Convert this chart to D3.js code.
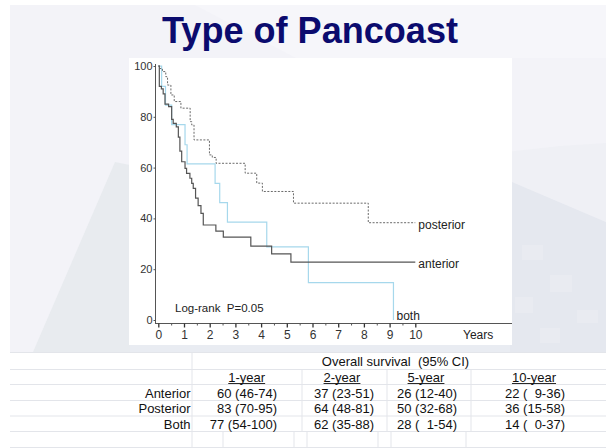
<!DOCTYPE html>
<html>
<head>
<meta charset="utf-8">
<script src="https://cdn.jsdelivr.net/npm/d3@7"></script>
<style>
body{margin:0;background:#fff;}
svg{display:block;font-family:"Liberation Sans",Arial,sans-serif;}
</style>
</head>
<body>
<svg id="c" width="606" height="448"></svg>
<script>
// ---------- data ----------
const title = "Type of Pancoast";
const yearTicks = [0,1,2,3,4,5,6,7,8,9,10];
const survTicks = [0,20,40,60,80,100];

const anteriorT = [0,0.04,0.12,0.19,0.26,0.4,0.52,0.58,0.7,0.78,0.84,0.91,1.04,1.1,1.23,1.3,1.36,1.45,1.55,1.66,1.75,2.24,2.53,3.6,4.41,5.16,10];
const anteriorV = [100,92,91,89,85,84,79,77.4,76,72,66.5,62.3,59.7,57.7,55.8,53.8,51.8,48,45,42,37.4,35,32.6,29.1,26,22.8,22.8];

const posteriorT = [0,0.06,0.16,0.29,0.36,0.49,0.62,0.88,1.24,1.3,1.39,1.99,2.1,2.25,3.38,3.83,4.05,5.26,8.17,10];
const posteriorV = [100,99,97.8,95.8,92.5,88.6,86,83.4,78.1,76.8,70.9,65,64,61.7,57.8,53.9,50.6,46,38.3,38.3];

const bothT = [0,0.13,0.28,0.52,1.04,1.12,2.21,2.39,2.69,4.22,5.84,9.15];
const bothV = [100,92,84.6,76.9,69,61.5,53.8,46.2,38.5,28.8,14.7,0];

const seriesNames = ["posterior","anterior","both"];
const logRankText = "Log-rank  P=0.05";
const xAxisTitle = "Years";

const tableTitle = "Overall survival  (95% CI)";
const colHeaders = ["1-year","2-year","5-year","10-year"];
const rowLabels = ["Anterior","Posterior","Both"];
const tableCells = [
  ["60 (46-74)","37 (23-51)","26 (12-40)","22 (  9-36)"],
  ["83 (70-95)","64 (48-81)","50 (32-68)","36 (15-58)"],
  ["77 (54-100)","62 (35-88)","28 (  1-54)","14 (  0-37)"]
];

// ---------- drawing ----------
const svg = d3.select("#c");

// slide background
svg.append("rect").attr("x",10).attr("y",5).attr("width",596).attr("height",347).attr("fill","#f3f3f8");
svg.append("polygon").attr("points","195,5 606,5 606,58 296,58").attr("fill","#f6f6fa");
svg.append("polygon").attr("points","115,162 135,166 135,352 33,352").attr("fill","#e8ebef");
svg.append("polygon").attr("points","505,152 560,146 606,143 606,222 505,179").attr("fill","#eff0f5");
svg.append("polygon").attr("points","505,179 606,222 606,352 505,352").attr("fill","#e5e8ef");
[[522,245,21,15],[550,275,22,17],[515,297,18,16],[577,310,21,13],[540,328,20,15]].forEach(r=>{
  svg.append("rect").attr("x",r[0]).attr("y",r[1]).attr("width",r[2]).attr("height",r[3]).attr("fill","#e9ebf1");
});
svg.append("rect").attr("x",130).attr("y",345).attr("width",380).attr("height",7).attr("fill","#e9ecf2");

// title
svg.append("text").attr("x",310).attr("y",43).attr("text-anchor","middle")
  .attr("font-size",36).attr("font-weight","bold").attr("fill","#0b0b6e")
  .attr("textLength",296).attr("lengthAdjust","spacingAndGlyphs").text(title);

// chart panel
svg.append("rect").attr("x",129).attr("y",58).attr("width",383).attr("height",287).attr("fill","#fff");

const x = d3.scaleLinear().domain([0,10]).range([158.3,415.3]);
const y = d3.scaleLinear().domain([0,100]).range([320,66]);

// axes
const axColor = "#555";
svg.append("line").attr("x1",155.5).attr("x2",155.5).attr("y1",64).attr("y2",323.5).attr("stroke",axColor);
svg.append("line").attr("x1",155).attr("x2",512).attr("y1",323.5).attr("y2",323.5).attr("stroke",axColor);

const yAx = svg.append("g").attr("transform","translate(155.5,0)")
  .call(d3.axisLeft(y).tickValues(survTicks).tickSize(2).tickPadding(1));
yAx.select(".domain").remove();
yAx.selectAll("line").attr("stroke",axColor);
yAx.selectAll("text").attr("font-size",11).attr("fill","#333").attr("font-family","Liberation Sans, Arial, sans-serif");

const xAx = svg.append("g").attr("transform","translate(0,323.5)")
  .call(d3.axisBottom(x).tickValues(yearTicks).tickSize(4).tickFormat(d3.format("d")));
xAx.select(".domain").remove();
xAx.selectAll("line").attr("stroke","#333").attr("stroke-width",1.3);
xAx.selectAll("text").attr("font-size",12).attr("fill","#333").attr("y",15.5).attr("dy",0)
  .attr("font-family","Liberation Sans, Arial, sans-serif");
const xMin = svg.append("g").attr("transform","translate(0,323.5)")
  .call(d3.axisBottom(x).tickValues(yearTicks.slice(0,-1).map(d=>d+0.5)).tickSize(2).tickFormat(""));
xMin.select(".domain").remove();
xMin.selectAll("line").attr("stroke",axColor);

// curves
const line = d3.line().x(d=>x(d[0])).y(d=>y(d[1])).curve(d3.curveStepAfter);
const zip = (a,b)=>a.map((t,i)=>[t,b[i]]);
svg.append("path").attr("d",line(zip(bothT,bothV))).attr("fill","none").attr("stroke","#a6d8ec").attr("stroke-width",1.2);
svg.append("path").attr("d",line(zip(posteriorT,posteriorV))).attr("fill","none").attr("stroke","#6a6a6a").attr("stroke-width",1).attr("stroke-dasharray","2,1.5");
svg.append("path").attr("d",line(zip(anteriorT,anteriorV))).attr("fill","none").attr("stroke","#555").attr("stroke-width",1.2);

// labels
const lab = (t,xx,yy,fs)=>svg.append("text").attr("x",xx).attr("y",yy).attr("font-size",fs||12).attr("fill","#222").text(t);
lab(seriesNames[0], x(10)+3, y(38.3)+6);
lab(seriesNames[1], x(10)+3, y(22.8)+6);
lab(seriesNames[2], x(9.15)+3, 319.5);
lab(logRankText, 175, 311.5, 11.5).style("white-space","pre");
lab(xAxisTitle, 463, 338.5);

// table
svg.append("rect").attr("x",10).attr("y",352).attr("width",596).attr("height",96).attr("fill","#fff");
const gridC = "#e3e5ea";
[352.5,369.5,384.5,400.5,416,431.5,447.5].forEach(yy=>{
  svg.append("line").attr("x1",10).attr("x2",606).attr("y1",yy).attr("y2",yy).attr("stroke",gridC);
});
svg.append("line").attr("x1",192).attr("x2",192).attr("y1",352).attr("y2",448).attr("stroke",gridC);
[302,387,471].forEach(xx=>svg.append("line").attr("x1",xx).attr("x2",xx).attr("y1",369.5).attr("y2",431.5).attr("stroke",gridC));
[223,294,307,378,391,466].forEach(xx=>svg.append("line").attr("x1",xx).attr("x2",xx).attr("y1",431.5).attr("y2",448).attr("stroke",gridC));

const tfs = 13;
svg.append("text").attr("x",395.5).attr("y",365.5).attr("text-anchor","middle").attr("font-size",tfs)
  .attr("fill","#111").style("white-space","pre").text(tableTitle);
const hdrX = [246.7,342,426,534];
colHeaders.forEach((h,i)=>{
  const t = svg.append("text").attr("x",hdrX[i]).attr("y",381.5).attr("text-anchor","middle")
    .attr("font-size",tfs).attr("fill","#111").text(h);
  const w = t.node().getComputedTextLength();
  svg.append("line").attr("x1",hdrX[i]-w/2).attr("x2",hdrX[i]+w/2).attr("y1",383.5).attr("y2",383.5)
    .attr("stroke","#111").attr("stroke-width",0.9);
});
const rowY = [397.5,413,428.5];
const cellX = [277,374,457,565];
rowLabels.forEach((r,i)=>{
  svg.append("text").attr("x",190.5).attr("y",rowY[i]).attr("text-anchor","end").attr("font-size",tfs).attr("fill","#111").text(r);
  tableCells[i].forEach((c,j)=>{
    svg.append("text").attr("x",cellX[j]).attr("y",rowY[i]).attr("text-anchor","end").attr("font-size",tfs)
      .attr("fill","#111").style("white-space","pre").text(c);
  });
});
</script>
</body>
</html>
